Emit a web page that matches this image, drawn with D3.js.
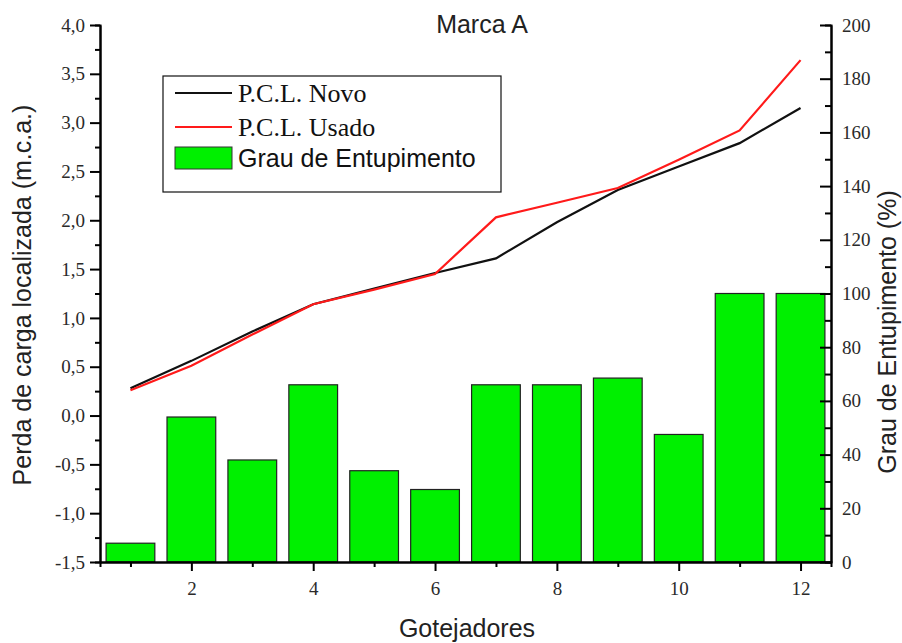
<!DOCTYPE html>
<html>
<head>
<meta charset="utf-8">
<script src="https://cdnjs.cloudflare.com/ajax/libs/d3/7.8.5/d3.min.js"></script>
<style>
  body { margin: 0; background: #fff; }
  .tick text { font-family: "Liberation Serif", "Times New Roman", serif; font-size: 19px; fill: #2a2a2a; }
  .domain, .tick line { stroke: #000; stroke-width: 2px; }
  .lab { font-family: "Liberation Sans", Arial, sans-serif; font-size: 25px; fill: #222; }
</style>
</head>
<body>
<div id="chart"></div>
<script>
// data
var gotejadores = [1, 2, 3, 4, 5, 6, 7, 8, 9, 10, 11, 12];
var entupimento = [7, 54, 38, 66, 34, 27, 66, 66, 68.5, 47.5, 100, 100];
var pclNovo = [0.28, 0.56, 0.86, 1.14, 1.30, 1.46, 1.61, 1.98, 2.31, 2.55, 2.79, 3.15];
var pclUsado = [0.26, 0.51, 0.83, 1.14, 1.29, 1.45, 2.03, 2.18, 2.33, 2.62, 2.92, 3.64];
var leftTicks = [-1.5, -1.0, -0.5, 0, 0.5, 1.0, 1.5, 2.0, 2.5, 3.0, 3.5, 4.0];
var rightTicks = [0, 20, 40, 60, 80, 100, 120, 140, 160, 180, 200];
var bottomTicks = [2, 4, 6, 8, 10, 12];

var width = 902, height = 643;
var margin = {top: 25, right: 71, bottom: 81, left: 100};
var w = width - margin.left - margin.right;
var h = height - margin.top - margin.bottom;

var svg = d3.select("#chart").append("svg")
    .attr("width", width)
    .attr("height", height);

var g = svg.append("g")
    .attr("transform", "translate(" + margin.left + "," + margin.top + ")");

var x = d3.scaleLinear().domain([0.5, 12.5]).range([0, w]);
var yL = d3.scaleLinear().domain([-1.5, 4.0]).range([h, 0]);
var yR = d3.scaleLinear().domain([0, 200]).range([h, 0]);

// bars (right axis)
var bw = (x(1) - x(0)) * 0.8;
g.append("g").selectAll("rect")
    .data(entupimento)
    .enter().append("rect")
    .attr("x", function(d, i) { return x(gotejadores[i]) - bw / 2; })
    .attr("y", function(d) { return yR(d); })
    .attr("width", bw)
    .attr("height", function(d) { return h - yR(d); })
    .attr("fill", "#00f000")
    .attr("stroke", "#222")
    .attr("stroke-width", 1.2);

// lines (left axis)
var line = d3.line()
    .x(function(d, i) { return x(gotejadores[i]); })
    .y(function(d) { return yL(d); });

g.append("path").datum(pclNovo)
    .attr("d", line).attr("fill", "none")
    .attr("stroke", "#111").attr("stroke-width", 2.2);
g.append("path").datum(pclUsado)
    .attr("d", line).attr("fill", "none")
    .attr("stroke", "#ff1a1a").attr("stroke-width", 2.2);

var fmt = function(d) { return d.toFixed(1).replace(".", ","); };

// left axis
g.append("g").call(d3.axisLeft(yL).tickValues(d3.range(-1.25, 4, 0.5)).tickSize(5).tickFormat(""));
g.append("g").call(d3.axisLeft(yL).tickValues(leftTicks).tickSizeInner(10).tickSizeOuter(0).tickPadding(5).tickFormat(fmt));

// right axis (ticks inward)
var right = g.append("g").attr("transform", "translate(" + w + ",0)");
right.call(d3.axisRight(yR).tickValues(d3.range(10, 200, 20)).tickSize(-6).tickFormat(""));
right.append("g").call(d3.axisRight(yR).tickValues(rightTicks).tickSizeInner(-11).tickSizeOuter(0).tickPadding(11));

// bottom axis
var bottom = g.append("g").attr("transform", "translate(0," + h + ")");
bottom.call(d3.axisBottom(x).tickValues([1, 3, 5, 7, 9, 11]).tickSize(5).tickFormat(""));
bottom.append("g").call(d3.axisBottom(x).tickValues(bottomTicks).tickSizeInner(9).tickSizeOuter(0).tickPadding(11));

// title and axis labels
svg.append("text").attr("class", "lab")
    .attr("x", 482).attr("y", 33)
    .attr("text-anchor", "middle")
    .text("Marca A");

svg.append("text").attr("class", "lab")
    .attr("x", 467).attr("y", 637)
    .attr("text-anchor", "middle")
    .text("Gotejadores");

svg.append("text").attr("class", "lab")
    .attr("transform", "translate(31,295) rotate(-90)")
    .attr("text-anchor", "middle")
    .text("Perda de carga localizada (m.c.a.)");

svg.append("text").attr("class", "lab")
    .attr("transform", "translate(896,332) rotate(-90)")
    .attr("text-anchor", "middle")
    .text("Grau de Entupimento (%)");

// legend
var legend = svg.append("g");
legend.append("rect")
    .attr("x", 163).attr("y", 76)
    .attr("width", 338).attr("height", 116)
    .attr("fill", "#fff").attr("stroke", "#111").attr("stroke-width", 1.2);

var legendItems = [
  {name: "P.C.L. Novo", type: "line", color: "#111", serif: true},
  {name: "P.C.L. Usado", type: "line", color: "#ff1a1a", serif: true},
  {name: "Grau de Entupimento", type: "bar", color: "#00f000", serif: false}
];
var ly = [93, 127, 158];
legendItems.forEach(function(d, i) {
  if (d.type == "line") {
    legend.append("line")
        .attr("x1", 175).attr("x2", 232)
        .attr("y1", ly[i]).attr("y2", ly[i])
        .attr("stroke", d.color).attr("stroke-width", 2.2);
  } else {
    legend.append("rect")
        .attr("x", 175).attr("y", ly[i] - 11)
        .attr("width", 57).attr("height", 22)
        .attr("fill", d.color).attr("stroke", "#333").attr("stroke-width", 1);
  }
  legend.append("text")
      .attr("x", 238).attr("y", ly[i] + 9)
      .attr("font-family", d.serif ? "Liberation Serif, serif" : "Liberation Sans, Arial, sans-serif")
      .attr("font-size", d.serif ? "26px" : "25px")
      .attr("fill", "#111")
      .text(d.name);
});
</script>
</body>
</html>
